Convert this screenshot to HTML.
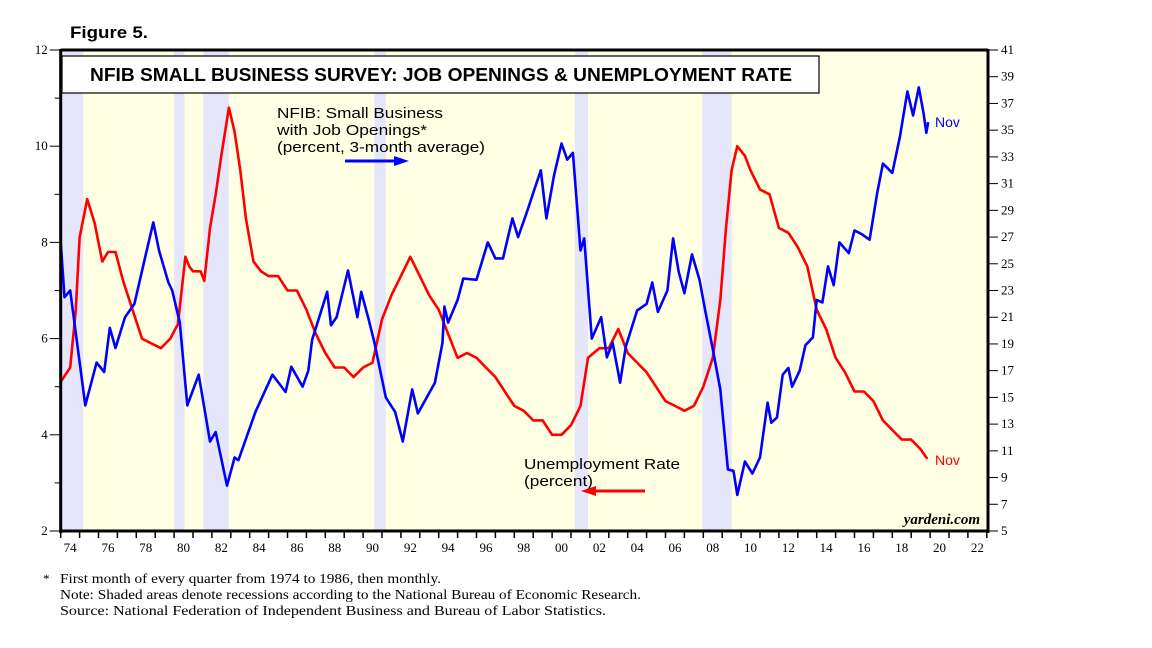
<!DOCTYPE html>
<html><head><meta charset="utf-8"><style>
body{margin:0;background:#fff;width:1152px;height:648px;overflow:hidden}
svg{display:block}
text{font-family:"Liberation Sans",Arial,sans-serif}
.serif{font-family:"Liberation Serif","Times New Roman",serif}
</style></head><body>
<svg id="chart" width="1152" height="648" xmlns="http://www.w3.org/2000/svg"></svg>
<script>
const recessions = [[1973.9,1975.2],[1980.0,1980.55],[1981.55,1982.9],[1990.6,1991.2],[2001.2,2001.9],[2007.95,2009.5]];
const unempYears = [1974.0,1974.5,1974.8,1975.0,1975.4,1975.8,1976.2,1976.5,1976.9,1977.3,1977.8,1978.3,1978.8,1979.3,1979.8,1980.2,1980.6,1980.8,1981.0,1981.4,1981.6,1981.9,1982.2,1982.5,1982.9,1983.2,1983.5,1983.8,1984.2,1984.6,1985.0,1985.5,1986.0,1986.5,1987.0,1987.5,1988.0,1988.5,1989.0,1989.5,1990.0,1990.5,1991.0,1991.5,1992.0,1992.5,1993.0,1993.5,1994.0,1994.5,1995.0,1995.5,1996.0,1996.5,1997.0,1997.5,1998.0,1998.5,1999.0,1999.5,2000.0,2000.5,2001.0,2001.5,2001.9,2002.5,2003.0,2003.5,2004.0,2004.5,2005.0,2005.5,2006.0,2006.5,2007.0,2007.5,2008.0,2008.5,2008.9,2009.2,2009.5,2009.8,2010.2,2010.5,2011.0,2011.5,2012.0,2012.5,2013.0,2013.5,2014.0,2014.5,2015.0,2015.5,2016.0,2016.5,2017.0,2017.5,2018.0,2018.5,2019.0,2019.5,2019.85];
const unempValues = [5.1,5.4,6.6,8.1,8.9,8.4,7.6,7.8,7.8,7.2,6.6,6.0,5.9,5.8,6.0,6.3,7.7,7.5,7.4,7.4,7.2,8.3,9.0,9.8,10.8,10.3,9.5,8.5,7.6,7.4,7.3,7.3,7.0,7.0,6.6,6.1,5.7,5.4,5.4,5.2,5.4,5.5,6.4,6.9,7.3,7.7,7.3,6.9,6.6,6.1,5.6,5.7,5.6,5.4,5.2,4.9,4.6,4.5,4.3,4.3,4.0,4.0,4.2,4.6,5.6,5.8,5.8,6.2,5.7,5.5,5.3,5.0,4.7,4.6,4.5,4.6,5.0,5.6,6.8,8.3,9.5,10.0,9.8,9.5,9.1,9.0,8.3,8.2,7.9,7.5,6.6,6.2,5.6,5.3,4.9,4.9,4.7,4.3,4.1,3.9,3.9,3.7,3.5];
const jobYears = [1974.0,1974.2,1974.5,1975.3,1975.9,1976.3,1976.6,1976.9,1977.4,1977.9,1978.5,1978.9,1979.2,1979.7,1979.9,1980.3,1980.7,1981.3,1981.9,1982.2,1982.8,1983.2,1983.4,1984.3,1985.2,1985.9,1986.2,1986.8,1987.1,1987.3,1988.1,1988.3,1988.6,1989.2,1989.7,1989.9,1990.3,1990.6,1991.2,1991.7,1992.1,1992.6,1992.9,1993.8,1994.2,1994.3,1994.5,1995.0,1995.3,1996.0,1996.6,1997.0,1997.4,1997.9,1998.2,1998.7,1999.0,1999.4,1999.7,2000.1,2000.5,2000.8,2001.1,2001.5,2001.7,2002.1,2002.6,2002.9,2003.2,2003.6,2003.9,2004.5,2005.0,2005.3,2005.6,2006.1,2006.4,2006.7,2007.0,2007.4,2007.8,2008.1,2008.5,2008.9,2009.3,2009.6,2009.8,2010.2,2010.6,2011.0,2011.4,2011.6,2011.9,2012.2,2012.5,2012.7,2013.1,2013.4,2013.8,2014.0,2014.3,2014.6,2014.9,2015.2,2015.7,2016.0,2016.4,2016.8,2017.2,2017.5,2018.0,2018.4,2018.8,2019.1,2019.4,2019.65,2019.8,2019.9];
const jobValues = [26.6,22.5,23.0,14.4,17.6,16.9,20.2,18.7,21.0,22.0,25.7,28.1,26.0,23.6,23.0,20.6,14.4,16.7,11.7,12.4,8.4,10.5,10.3,13.9,16.7,15.4,17.3,15.8,17.0,19.3,22.9,20.4,21.0,24.5,21.0,22.9,20.8,19.1,15.0,13.9,11.7,15.6,13.8,16.1,19.1,21.8,20.6,22.3,23.9,23.8,26.6,25.4,25.4,28.4,27.0,29.0,30.3,32.0,28.4,31.6,34.0,32.8,33.3,26.0,26.9,19.4,21.0,18.0,19.1,16.1,18.8,21.5,22.0,23.6,21.4,23.0,26.9,24.4,22.8,25.7,23.8,21.5,18.6,15.6,9.6,9.5,7.7,10.2,9.3,10.5,14.6,13.1,13.5,16.7,17.2,15.8,17.0,18.9,19.5,22.3,22.1,24.8,23.4,26.6,25.8,27.5,27.2,26.8,30.3,32.5,31.8,34.5,37.9,36.1,38.2,36.3,34.8,35.6];
const leftTicks = [2,4,6,8,10,12];
const rightTicks = [5,7,9,11,13,15,17,19,21,23,25,27,29,31,33,35,37,39,41];
const yearLabels = ["74","76","78","80","82","84","86","88","90","92","94","96","98","00","02","04","06","08","10","12","14","16","18","20","22"];

const X0=60.7, PX=18.9, Y0=531, Y1=50, R=988;
const xs = y => X0 + (y-1974)*PX;
const yl = v => Y0 - (v-2)/10*(Y0-Y1);
const yr = v => Y0 - (v-5)/36*(Y0-Y1);
const svg = document.getElementById('chart');
const NS='http://www.w3.org/2000/svg';
function mk(tag, attrs, parent){const e=document.createElementNS(NS,tag);for(const k in attrs)e.setAttribute(k,attrs[k]);(parent||svg).appendChild(e);return e;}
function tx(str, attrs){const e=mk('text',attrs);e.textContent=str;return e;}

let e;
e=mk('rect',{x:X0,y:Y1,width:R-X0,height:Y0-Y1,fill:'#ffffe3'});


recessions.forEach(r=>{
  e=mk('rect',{x:xs(r[0]),y:Y1,width:xs(r[1])-xs(r[0]),height:Y0-Y1,fill:'#e6e6fa'});
  
  
});
e=mk('rect',{x:62,y:56,width:757,height:37,fill:'#fff',stroke:'#000','stroke-width':1.2});


e=tx('NFIB SMALL BUSINESS SURVEY: JOB OPENINGS & UNEMPLOYMENT RATE',{x:90,y:81,'font-size':18,'font-weight':'bold',fill:'#000',textLength:702,lengthAdjust:'spacingAndGlyphs'});


e=tx('Figure 5.',{x:70,y:38,'font-size':17,'font-weight':'bold',fill:'#000',textLength:78,lengthAdjust:'spacingAndGlyphs'});



function line(xsArr, vals, f, color, name){
  const d = xsArr.map((y,i)=>(i?'L':'M')+xs(y).toFixed(1)+','+f(vals[i]).toFixed(1)).join(' ');
  const p = mk('path',{d:d,fill:'none',stroke:color,'stroke-width':2.6,'stroke-linejoin':'round'});
  
  
}
line(unempYears,unempValues,yl,'#ff0000','unemployment-line');
line(jobYears,jobValues,yr,'#0000ff','job-openings-line');

e=mk('line',{x1:X0,y1:Y1,x2:R,y2:Y1,stroke:'#000','stroke-width':3});


e=mk('line',{x1:X0,y1:Y1-1,x2:X0,y2:Y0+2,stroke:'#000','stroke-width':3});


e=mk('line',{x1:R,y1:Y1-1,x2:R,y2:Y0+2,stroke:'#000','stroke-width':3});


e=mk('line',{x1:X0-1,y1:Y0,x2:R+1,y2:Y0,stroke:'#000','stroke-width':3});



leftTicks.forEach(v=>{
  e=mk('line',{x1:X0-11,y1:yl(v),x2:X0,y2:yl(v),stroke:'#000','stroke-width':1});
  
  
  e=tx(String(v),{x:X0-13,y:yl(v)+4,'font-size':13,'text-anchor':'end',class:'serif'});
  
  
  if(v<12){
    e=mk('line',{x1:X0-6,y1:yl(v+1),x2:X0,y2:yl(v+1),stroke:'#000','stroke-width':1});
    
    
  }
});
rightTicks.forEach(v=>{
  e=mk('line',{x1:R,y1:yr(v),x2:R+10,y2:yr(v),stroke:'#000','stroke-width':1});
  
  
  e=tx(String(v),{x:R+13,y:yr(v)+4,'font-size':13,class:'serif'});
  
  
});
for(let y=1974;y<=2023;y++){
  e=mk('line',{x1:xs(y),y1:Y0,x2:xs(y),y2:Y0+7,stroke:'#000','stroke-width':1.5});
  
  
}
yearLabels.forEach((l,i)=>{
  e=tx(l,{x:xs(1974+2*i+0.5),y:Y0+21,'font-size':13,'text-anchor':'middle',class:'serif'});
  
  
});

const annLens=[166,150,208];
['NFIB: Small Business','with Job Openings*','(percent, 3-month average)'].forEach((s,i)=>{
  e=tx(s,{x:277,y:118+i*17,'font-size':15,fill:'#000',textLength:annLens[i],lengthAdjust:'spacingAndGlyphs'});
  
  
});
e=mk('line',{x1:345,y1:161,x2:396,y2:161,stroke:'#0000ff','stroke-width':3});


e=mk('polygon',{points:'394,156 409,161 394,166',fill:'#0000ff'});


const unLens=[156,69];
['Unemployment Rate','(percent)'].forEach((s,i)=>{
  e=tx(s,{x:524,y:469+i*17,'font-size':15,fill:'#000',textLength:unLens[i],lengthAdjust:'spacingAndGlyphs'});
  
  
});
e=mk('line',{x1:645,y1:491,x2:594,y2:491,stroke:'#ff0000','stroke-width':3});


e=mk('polygon',{points:'596,486 581,491 596,496',fill:'#ff0000'});


e=tx('Nov',{x:935,y:127,'font-size':14,fill:'#0000ff'});


e=tx('Nov',{x:935,y:465,'font-size':14,fill:'#ff0000'});


e=tx('yardeni.com',{x:980,y:524,'font-size':15,'font-style':'italic','font-weight':'bold','text-anchor':'end',class:'serif'});



e=tx('*',{x:43,y:583,'font-size':13,class:'serif'});


const fnLens=[381,581,546];
['First month of every quarter from 1974 to 1986, then monthly.','Note: Shaded areas denote recessions according to the National Bureau of Economic Research.','Source: National Federation of Independent Business and Bureau of Labor Statistics.'].forEach((s,i)=>{
  e=tx(s,{x:60,y:583+i*16,'font-size':13.5,class:'serif',textLength:fnLens[i],lengthAdjust:'spacingAndGlyphs'});
  
  
});
</script>
</body></html>
